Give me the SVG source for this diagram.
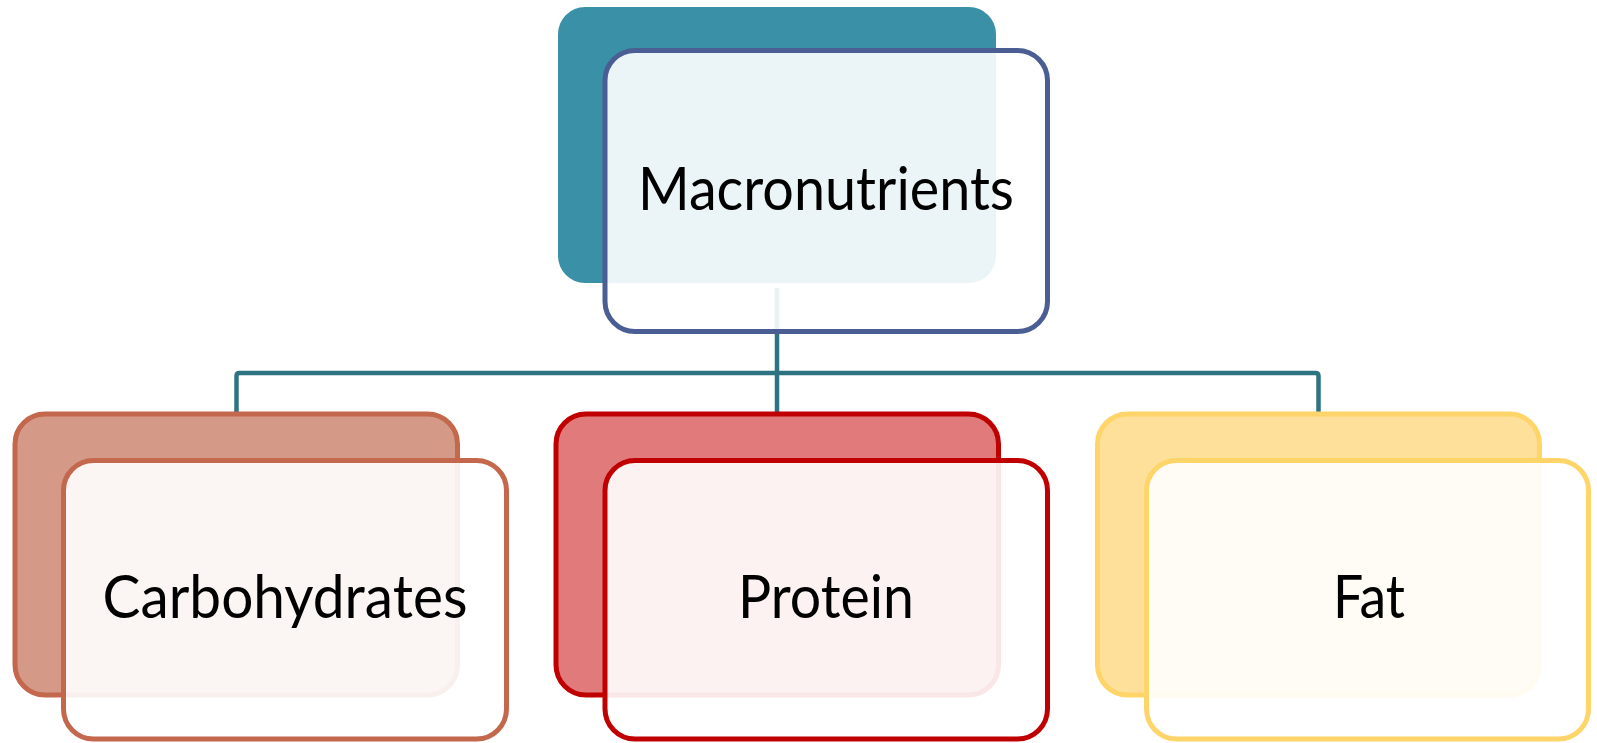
<svg xmlns="http://www.w3.org/2000/svg" width="1597" height="743" viewBox="0 0 1597 743">
<style>
.lbl{font-family:Lato,"Open Sans","Liberation Sans",sans-serif;font-size:60px;fill:#000;text-anchor:middle}
.front{fill:#ffffff;fill-opacity:0.9;stroke-width:5}
.back{stroke-width:5}
.conn{fill:none;stroke:#2E7381;stroke-width:4.5;stroke-linejoin:round}
</style>
<rect width="1597" height="743" fill="#ffffff"/>
<g id="connectors">
<path class="conn" d="M236.5,412 V376 Q236.5,373 239.5,373 H1315.5 Q1318.5,373 1318.5,376 V412"/>
<path class="conn" d="M777,288 V412"/>
</g>
<g id="node-macronutrients">
<rect x="558" y="7" width="438" height="276" rx="27" fill="#3A91A7"/>
<rect class="front" x="605" y="50.5" width="442.5" height="281" rx="30" stroke="#4A5E94"/>
<text class="lbl" x="826" y="210" textLength="376" lengthAdjust="spacingAndGlyphs">Macronutrients</text>
</g>
<g id="node-carbohydrates">
<rect class="back" x="15" y="414" width="442.5" height="281" rx="30" fill="#D59A87" stroke="#C3674D"/>
<rect class="front" x="63.5" y="460.5" width="443" height="278.5" rx="30" stroke="#C3674D"/>
<text class="lbl" x="285" y="618" textLength="365" lengthAdjust="spacingAndGlyphs">Carbohydrates</text>
</g>
<g id="node-protein">
<rect class="back" x="556" y="414" width="442.5" height="281" rx="30" fill="#E17A7A" stroke="#C00000"/>
<rect class="front" x="605" y="460.5" width="442.5" height="278.5" rx="30" stroke="#C00000"/>
<text class="lbl" x="826" y="618" textLength="176" lengthAdjust="spacingAndGlyphs">Protein</text>
</g>
<g id="node-fat">
<rect class="back" x="1097.5" y="414" width="442" height="281" rx="30" fill="#FEE09A" stroke="#FFD468"/>
<rect class="front" x="1146.5" y="460.5" width="442" height="278.5" rx="30" stroke="#FFD468"/>
<text class="lbl" x="1369" y="618" textLength="72" lengthAdjust="spacingAndGlyphs">Fat</text>
</g>
</svg>
